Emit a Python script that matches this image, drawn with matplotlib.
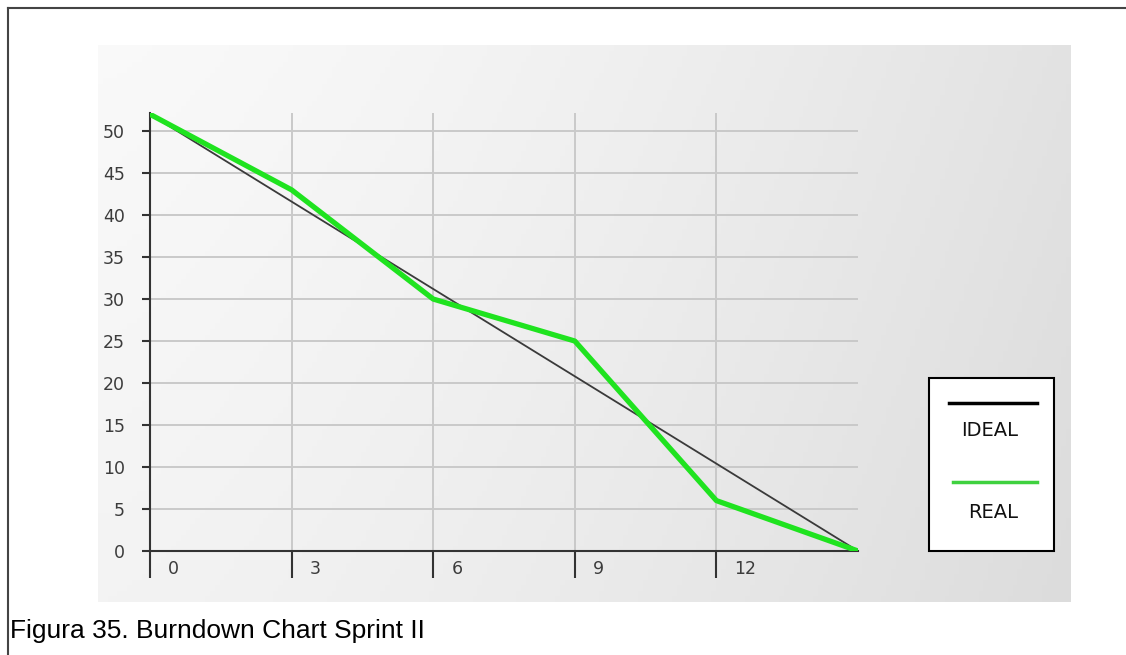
import numpy as np
import matplotlib.pyplot as plt
from matplotlib.lines import Line2D
from matplotlib.patches import Rectangle

# Burndown data (Sprint II)
days = [0, 3, 6, 9, 12, 15]
real = [52, 43, 30, 25, 6, 0]
ideal_days = [0, 15]
ideal = [52, 0]
series_names = ["IDEAL", "REAL"]
x_ticks = [0, 3, 6, 9, 12]
y_ticks = [0, 5, 10, 15, 20, 25, 30, 35, 40, 45, 50]
caption = "Figura 35. Burndown Chart Sprint II"

W, H = 1126, 655
fig = plt.figure(figsize=(W / 100, H / 100), dpi=100, facecolor="white")


def fx(px):
    return px / W


def fy(py):
    return 1 - py / H


# outer border (top and left only visible)
fig.add_artist(Line2D([fx(8), 1.0], [fy(8), fy(8)], color="#444444", lw=1.5))
fig.add_artist(Line2D([fx(8), fx(8)], [fy(8), 0.0], color="#444444", lw=1.5))

# gradient background panel
bg = fig.add_axes([fx(98), fy(602), fx(1071 - 98), (602 - 45) / H])
gx = np.linspace(0, 1, 200)
gy = np.linspace(0, 1, 100)
GX, GY = np.meshgrid(gx, gy)
vals = 0.978 - 0.09 * GX**1.4 - 0.025 * GY
bg.imshow(np.dstack([vals, vals, vals]), aspect="auto", extent=[0, 1, 1, 0])
bg.set_axis_off()

# main plot
ax = fig.add_axes([fx(150), fy(551), fx(858 - 150), (551 - 113) / H])
ax.set_facecolor("none")
ax.set_xlim(0, 15)
ax.set_ylim(0, 52.15)

ax.plot(ideal_days, ideal, color="#3a3a3a", lw=1.3, zorder=3)
ax.plot(days, real, color="#1fe31f", lw=3.8, solid_joinstyle="round",
        solid_capstyle="round", zorder=4)

for s in ["top", "right"]:
    ax.spines[s].set_visible(False)
for s in ["left", "bottom"]:
    ax.spines[s].set_color("#333333")
    ax.spines[s].set_linewidth(1.5)

ax.set_yticks(y_ticks)
ax.set_yticklabels([str(v) for v in y_ticks])
ax.tick_params(axis="y", length=6, width=1.5, color="#333333", pad=12,
               labelsize=12.5, labelcolor="#3c3c3c")
ax.set_xticks(x_ticks)
ax.set_xticklabels([])
ax.tick_params(axis="x", length=19.5, width=1.5, color="#333333")
for v in x_ticks:
    ax.annotate(str(v), xy=(v, 0), xytext=(13, -13), textcoords="offset points",
                ha="left", va="center", fontsize=12.5, color="#3c3c3c",
                annotation_clip=False)

ax.grid(True, color="#c9c9c9", lw=1.4, zorder=0)
ax.set_axisbelow(True)

# legend box drawn by hand (line above label)
fig.add_artist(Rectangle((fx(929), fy(551)), fx(1054 - 929), (551 - 378) / H,
                         facecolor="white", edgecolor="black", lw=1.5))
fig.add_artist(Line2D([fx(949), fx(1037)], [fy(403), fy(403)], color="black", lw=2.5))
fig.text(fx(990), fy(431), series_names[0], ha="center", va="center",
         fontsize=14, color="#111111")
fig.add_artist(Line2D([fx(953), fx(1037)], [fy(482), fy(482)], color="#3fd13f", lw=2.5))
fig.text(fx(993), fy(512), series_names[1], ha="center", va="center",
         fontsize=14, color="#111111")

fig.text(fx(10), fy(638), caption, ha="left", va="baseline",
         fontsize=19, family="Liberation Sans", color="black")

fig.savefig("out.png", dpi=100, facecolor="white")
